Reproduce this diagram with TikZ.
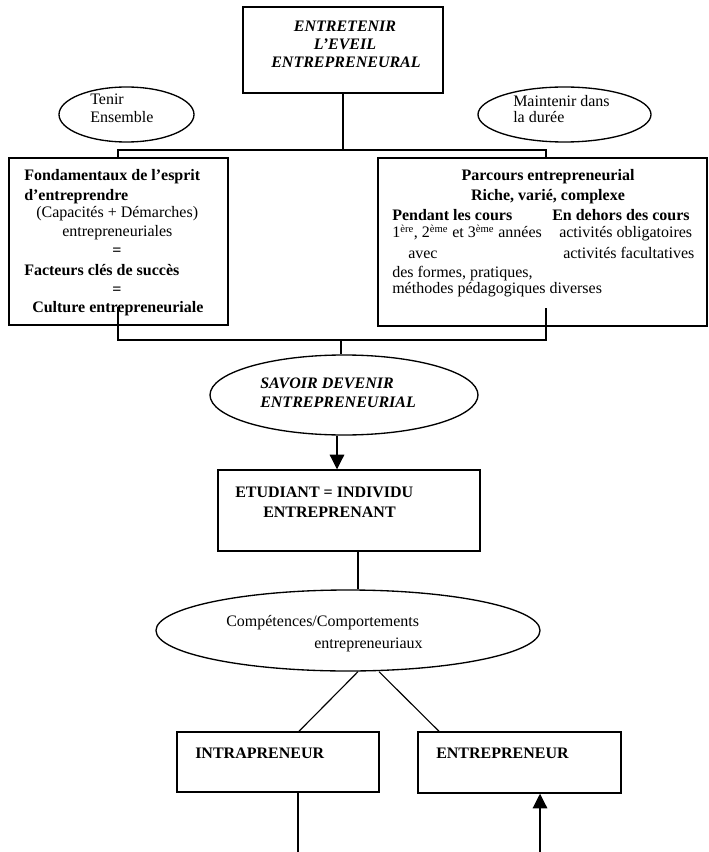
\documentclass[tikz,border=0pt]{standalone}
\usepackage{fontspec}
\setmainfont{Liberation Serif}
\usetikzlibrary{shapes.geometric,arrows.meta}
\begin{document}
\begin{tikzpicture}[x=0.75pt,y=-0.75pt,
  box/.style={draw, rectangle, inner sep=0, line width=1.4pt},
  sbox/.style={draw, rectangle, inner sep=0, line width=1.1pt},
  oval/.style={draw, ellipse, inner sep=0, line width=1pt},
  txt/.style={inner sep=0, anchor=base west, font=\fontsize{12}{14}\selectfont},
  txtb/.style={txt, font=\fontsize{12}{14}\selectfont\bfseries},
  txtbi/.style={txt, font=\fontsize{12}{14}\selectfont\bfseries\itshape},
  conn/.style={line width=0.85pt},
  arr/.style={conn, -{Triangle[length=11pt,width=11pt]}}]
\useasboundingbox (0,0) rectangle (709,852);

% boxes
\node[box, minimum width=150pt, minimum height=64.5pt] (top) at (343,50) {};
\node[box, minimum width=164.25pt, minimum height=125.25pt] (fbox) at (118.5,241.5) {};
\node[box, minimum width=246.75pt, minimum height=126pt] (pbox) at (542.5,242) {};
\node[sbox, minimum width=196.5pt, minimum height=60.75pt] (etud) at (349,510.5) {};
\node[sbox, minimum width=151.5pt, minimum height=45pt] (intra) at (278,762) {};
\node[sbox, minimum width=152.25pt, minimum height=45.75pt] (entre) at (519.5,762.5) {};

% ellipses
\node[oval, minimum width=101.25pt, minimum height=41.25pt] (tenir) at (126.5,114.5) {};
\node[oval, minimum width=129.75pt, minimum height=41.25pt] (maint) at (564.5,114.5) {};
\node[oval, minimum width=201pt, minimum height=60pt] (savoir) at (344,395) {};
\node[oval, minimum width=288pt, minimum height=60.75pt] (comp) at (348,630.5) {};

% texts
\node[txtbi, anchor=base] (t1) at (345,32) {ENTRETENIR};
\node[txtbi, anchor=base] (t2) at (345,50) {L'EVEIL};
\node[txtbi, anchor=base] (t3) at (346,68) {ENTREPRENEURAL};

\node[txt] (te1) at (90,105) {Tenir};
\node[txt] (te2) at (90,123) {Ensemble};
\node[txt] (m1) at (513,107) {Maintenir dans};
\node[txt] (m2) at (513,123) {la durée};

\node[txtb] (f1) at (24,181) {Fondamentaux de l'esprit};
\node[txtb] (f2) at (24,200) {d'entreprendre};
\node[txt] (f3) at (36,218) {(Capacités + Démarches)};
\node[txt] (f4) at (62,237) {entrepreneuriales};
\node[txtb, anchor=base] (f5) at (117,255) {=};
\node[txtb] (f6) at (24,275) {Facteurs clés de succès};
\node[txtb, anchor=base] (f7) at (117,294) {=};
\node[txtb] (f8) at (32,312) {Culture entrepreneuriale};

\node[txtb, anchor=base] (p1) at (548,181) {Parcours entrepreneurial};
\node[txtb, anchor=base] (p2) at (548,200) {Riche, varié, complexe};
\node[txtb] (p3) at (392,220) {Pendant les cours};
\node[txtb] (p4) at (552,220) {En dehors des cours};
\node[txt] (p5) at (392,238) {1\textsuperscript{ère}, 2\textsuperscript{ème} et 3\textsuperscript{ème} années};
\node[txt] (p6) at (559,238) {activités obligatoires};
\node[txt] (p7) at (408,258) {avec};
\node[txt] (p8) at (563,258) {activités facultatives};
\node[txt] (p9) at (392,277) {des formes, pratiques,};
\node[txt] (p10) at (392,293) {méthodes pédagogiques diverses};

\node[txtbi] (s1) at (260,388) {SAVOIR DEVENIR};
\node[txtbi] (s2) at (260,407) {ENTREPRENEURIAL};

\node[txtb] (e1) at (235,497) {ETUDIANT = INDIVIDU};
\node[txtb] (e2) at (263,517) {ENTREPRENANT};

\node[txt] (c1) at (226,626) {Compétences/Comportements};
\node[txt] (c2) at (314,648) {entrepreneuriaux};

\node[txtb] (i1) at (195,758) {INTRAPRENEUR};
\node[txtb] (en1) at (436,758) {ENTREPRENEUR};

% connectors
\coordinate (hl) at (118,150);
\coordinate (hm) at (343,150);
\coordinate (hr) at (546,150);
\draw[conn] (top.south) -- (hm);
\draw[conn] (fbox.north -| hl) -- (hl) -- (hr) -- (pbox.north -| hr);

\coordinate (bls) at (118,307);
\coordinate (brs) at (546,308);
\coordinate (bl) at (118,340);
\coordinate (bm) at (341,340);
\coordinate (br) at (546,340);
\draw[conn] (bls) -- (bl) -- (br) -- (brs);
\draw[conn] (bm) -- (savoir.north -| bm);

\coordinate (ax) at (337,0);
\draw[arr] (savoir.south -| ax) -- (etud.north -| ax);

\coordinate (cx) at (358,0);
\draw[conn] (etud.south -| cx) -- (comp.north -| cx);

\draw[conn] (comp.south -| 358,0) -- (intra.north -| 299,0);
\draw[conn] (comp.south -| 379,0) -- (entre.north -| 439,0);

\coordinate (ibot) at (298,852);
\draw[conn] (intra.south -| ibot) -- (ibot);
\coordinate (ebot) at (540,852);
\draw[arr] (ebot) -- (entre.south -| ebot);
\end{tikzpicture}
\end{document}
